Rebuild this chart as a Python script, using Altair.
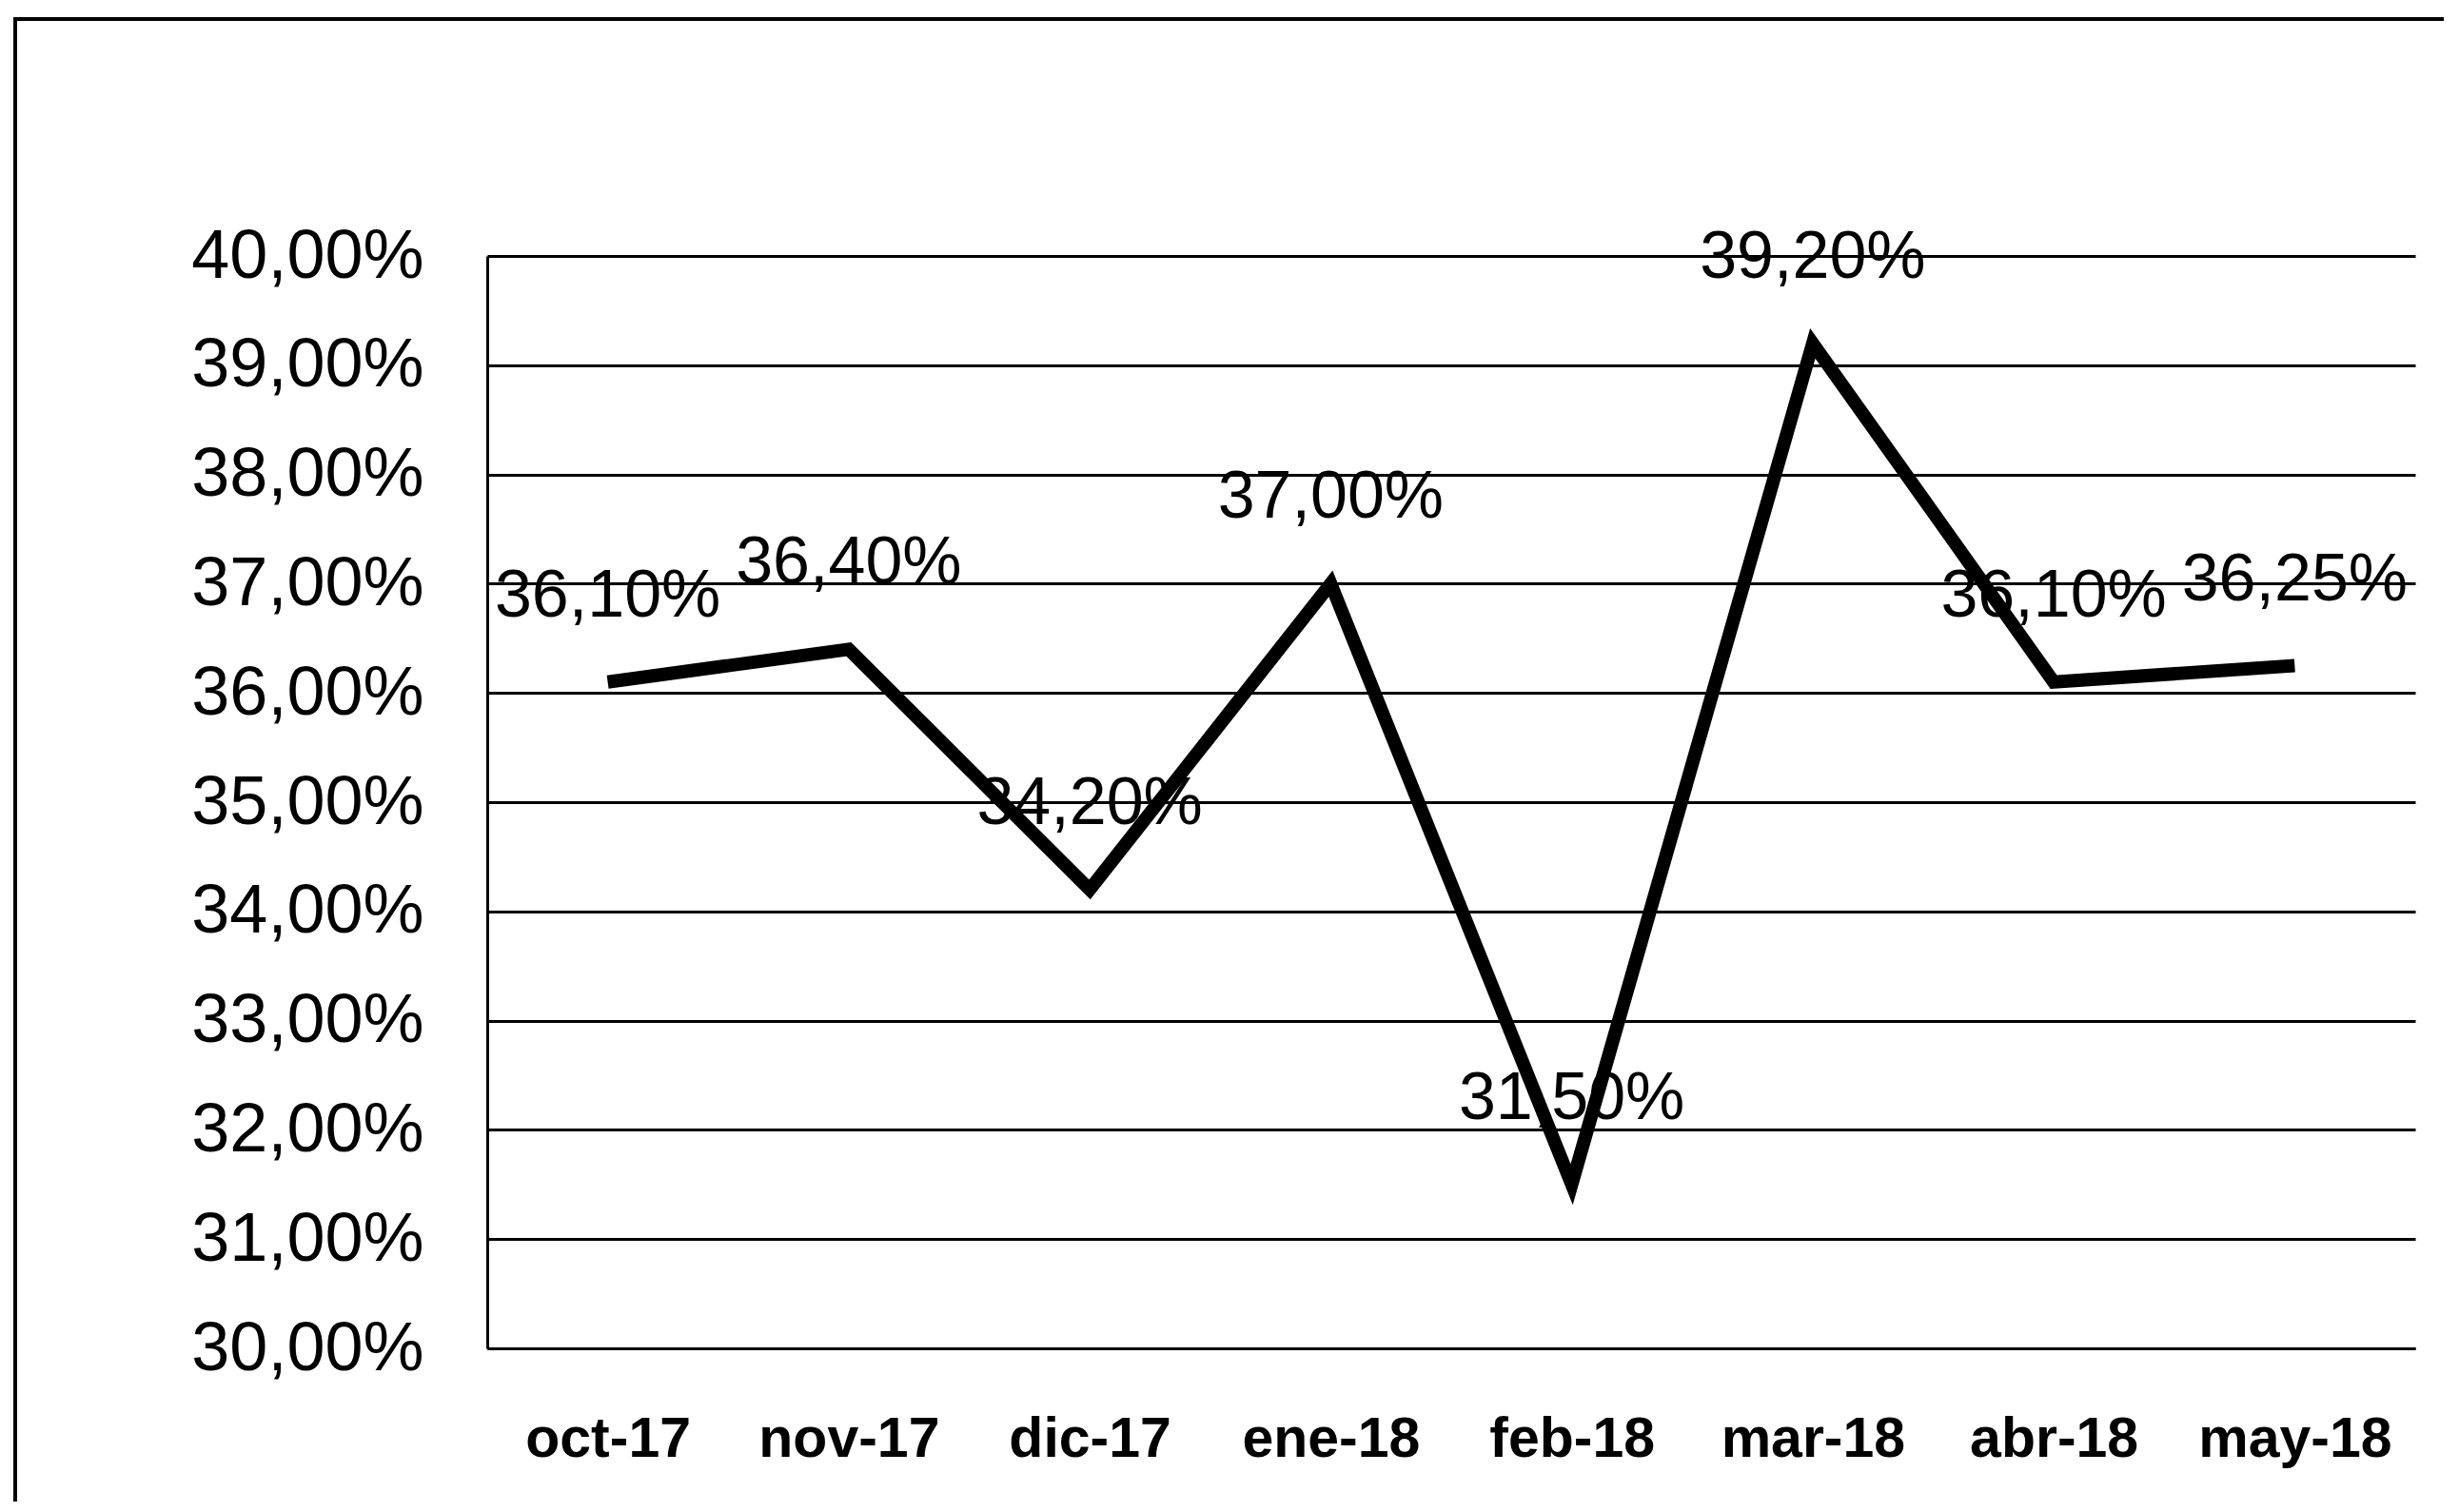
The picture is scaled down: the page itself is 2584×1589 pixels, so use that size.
import altair as alt
import pandas as pd

months = ["oct-17", "nov-17", "dic-17", "ene-18", "feb-18", "mar-18", "abr-18", "may-18"]
values = [36.10, 36.40, 34.20, 37.00, 31.50, 39.20, 36.10, 36.25]
y_ticks = [30, 31, 32, 33, 34, 35, 36, 37, 38, 39, 40]

df = pd.DataFrame({"mes": months, "valor": values})
df["etiqueta"] = [f"{v:.2f}".replace(".", ",") + "%" for v in values]

W, H = 2026, 1148
PAD_L, PAD_T = 504, 261
CANVAS_W, CANVAS_H = 2560, 1570

x_enc = alt.X("mes:N", sort=months,
              scale=alt.Scale(paddingInner=0, paddingOuter=0.5),
              axis=alt.Axis(title=None, labelAngle=0, ticks=False, domain=True,
                            domainColor="black", domainWidth=3, grid=False,
                            labelFont="Liberation Sans Narrow, Arial Narrow, Liberation Sans",
                            labelFontWeight="bold", labelFontSize=59, labelColor="black",
                            labelPadding=66, labelLimit=0, labelOverlap=False))
y_enc = alt.Y("valor:Q", scale=alt.Scale(domain=[30, 40], nice=False, zero=False),
              axis=alt.Axis(title=None, values=y_ticks, ticks=False,
                            domain=True, domainColor="black", domainWidth=3,
                            grid=True, gridColor="black", gridWidth=3, gridOpacity=1,
                            labelFont="Liberation Sans, Arial", labelFontSize=72,
                            labelColor="black", labelPadding=67, labelLimit=0,
                            labelOverlap=False,
                            labelExpr="replace(format(datum.value, '.2f'), '.', ',') + '%'"))

base = alt.Chart(df)

line = base.mark_line(color="black", strokeWidth=14, strokeJoin="miter").encode(x=x_enc, y=y_enc)

labels = base.mark_text(font="Liberation Sans, Arial", fontSize=70, color="black",
                        align="center", baseline="middle", dy=-90).encode(
    x=alt.X("mes:N", sort=months), y=alt.Y("valor:Q"), text="etiqueta:N")

frame_df = pd.DataFrame({"k": [0]})
frame_left = alt.Chart(frame_df).mark_rule(color="black", strokeWidth=4).encode(
    x=alt.value(-496), y=alt.value(-251), y2=alt.value(CANVAS_H - PAD_T))
frame_top = alt.Chart(frame_df).mark_rule(color="black", strokeWidth=4).encode(
    x=alt.value(-498), x2=alt.value(CANVAS_W - PAD_L), y=alt.value(-249))

chart = alt.layer(line, labels, frame_left, frame_top).properties(
    width=W, height=H,
    autosize=alt.AutoSizeParams(type="none"),
    padding={"left": PAD_L, "top": PAD_T, "right": CANVAS_W - PAD_L - W, "bottom": CANVAS_H - PAD_T - H},
    background="white",
).configure_view(stroke=None)

chart.save("out.html", embed_options={"renderer": "svg", "actions": False})
